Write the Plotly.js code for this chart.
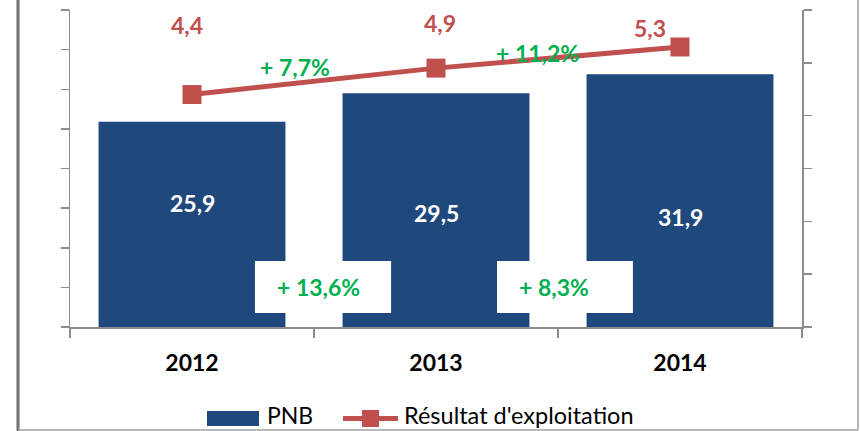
<!DOCTYPE html>
<html>
<head>
<meta charset="utf-8">
<script src="https://cdn.plot.ly/plotly-3.0.1.min.js"></script>
<style>html,body{margin:0;padding:0;background:#fff;}#chart{width:860px;height:431px;}</style>
</head>
<body>
<div id="chart"></div>
<script>
const categories = ['2012', '2013', '2014'];
const pnb = [25.9, 29.5, 31.9];
const resultat = [4.4, 4.9, 5.3];
const pnbGrowth = ['+ 13,6%', '+ 8,3%'];
const resultatGrowth = ['+ 7,7%', '+ 11,2%'];
const legendNames = ['PNB', "Résultat d'exploitation"];

const fmt = v => v.toFixed(1).replace('.', ',');
const BLUE = '#1F497D', RED = '#C0504D', GREEN = '#00B050', AX = '#8C8C8C';
const FONT = 'Lato, "Open Sans", sans-serif';

// plot area in pixels: x 70..802, y 10..327
const PL = 70, PR = 802, PT = 10, PB = 327;
const px = p => (p - PL) / (PR - PL);
const py = p => (PB - p) / (PB - PT);

const traces = [
  {type: 'bar', x: categories, y: pnb, name: legendNames[0], marker: {color: BLUE},
   hoverinfo: 'skip', showlegend: false},
  {type: 'scatter', mode: 'lines+markers', x: categories, y: resultat, yaxis: 'y2',
   name: legendNames[1], line: {color: RED, width: 5},
   marker: {symbol: 'square', size: 19, color: RED}, hoverinfo: 'skip', showlegend: false}
];

const bold = (size, color) => ({family: FONT, size: size, color: color, weight: 'bold'});
const annotations = [];
// bar value labels (offsets from bar top)
const barLabelShift = [-81, -120, -143];
pnb.forEach((v, i) => annotations.push({x: i, y: v, xref: 'x', yref: 'y',
  xanchor: 'center', yanchor: 'middle',
  text: fmt(v), showarrow: false, yshift: barLabelShift[i], font: bold(23, '#FFFFFF')}));
// line value labels
const lineLabelShift = [[-5, 70], [4, 45], [-30, 19]];
resultat.forEach((v, i) => annotations.push({x: i, y: v, xref: 'x', yref: 'y2',
  xanchor: 'center', yanchor: 'middle',
  text: fmt(v), showarrow: false, xshift: lineLabelShift[i][0], yshift: lineLabelShift[i][1],
  font: bold(23, RED)}));
// growth of résultat (between categories, above line)
const resGrowthPos = [[0.422, 4.92], [1.418, 5.19]];
resultatGrowth.forEach((t, i) => annotations.push({x: resGrowthPos[i][0], y: resGrowthPos[i][1],
  xref: 'x', yref: 'y2', xanchor: 'center', yanchor: 'middle',
  text: t, showarrow: false, font: bold(23, GREEN)}));
// growth of PNB in white boxes
const shapes = [];
const boxX = [[0.258, 0.816], [1.25, 1.807]];
pnbGrowth.forEach((t, i) => {
  shapes.push({type: 'rect', xref: 'x', yref: 'paper', x0: boxX[i][0], x1: boxX[i][1],
    y0: py(313), y1: py(261), fillcolor: '#FFFFFF', line: {width: 0}, layer: 'above'});
  annotations.push({x: boxX[i][0] + 0.082, y: py(287), xref: 'x', yref: 'paper',
    xanchor: 'left', yanchor: 'middle',
    text: t, showarrow: false, font: bold(23, GREEN)});
});

// outer frame
shapes.push({type: 'line', xref: 'paper', yref: 'paper', x0: px(18), x1: px(18), y0: py(-5), y1: py(431),
  line: {color: '#707070', width: 3}});
shapes.push({type: 'line', xref: 'paper', yref: 'paper', x0: px(18), x1: px(858), y0: py(430), y1: py(430),
  line: {color: '#A0A0A0', width: 1.5}});
shapes.push({type: 'line', xref: 'paper', yref: 'paper', x0: px(858), x1: px(858), y0: py(-5), y1: py(430),
  line: {color: '#A0A0A0', width: 1.5}});

// custom legend
shapes.push({type: 'rect', xref: 'paper', yref: 'paper', x0: px(207), x1: px(259), y0: py(426), y1: py(411),
  fillcolor: BLUE, line: {width: 0}});
shapes.push({type: 'line', xref: 'paper', yref: 'paper', x0: px(343), x1: px(398), y0: py(418.5), y1: py(418.5),
  line: {color: RED, width: 5}});
shapes.push({type: 'rect', xref: 'paper', yref: 'paper', x0: px(362), x1: px(379), y0: py(427), y1: py(410),
  fillcolor: RED, line: {width: 0}});
annotations.push({x: px(265), y: py(431), xref: 'paper', yref: 'paper', xanchor: 'left', yanchor: 'bottom',
  text: legendNames[0], showarrow: false, font: {family: FONT, size: 23, color: '#000'}});
annotations.push({x: px(402), y: py(431), xref: 'paper', yref: 'paper', xanchor: 'left', yanchor: 'bottom',
  text: legendNames[1], showarrow: false, font: {family: FONT, size: 23.5, color: '#000'}});

const axisCommon = {showgrid: false, zeroline: false, showline: true, linecolor: AX, linewidth: 1.5,
  ticks: 'outside', tickcolor: AX, tickwidth: 1.5, ticklen: 8, showticklabels: false, fixedrange: true};

const layout = {
  width: 860, height: 431,
  margin: {l: PL, r: 860 - PR, t: PT, b: 431 - PB},
  paper_bgcolor: '#FFFFFF', plot_bgcolor: '#FFFFFF',
  showlegend: false, bargap: 0.234,
  xaxis: {type: 'category', range: [-0.5, 2.5], tickson: 'boundaries', ticks: 'outside', ticklen: 9,
    tickcolor: AX, tickwidth: 1.5, showline: true, linecolor: AX, linewidth: 1.5, showgrid: false,
    tickfont: bold(23, '#000000'), ticklabelstandoff: 15, fixedrange: true},
  yaxis: Object.assign({range: [0, 40], dtick: 5, tick0: 0}, axisCommon),
  yaxis2: Object.assign({range: [0, 6], dtick: 1, tick0: 0, overlaying: 'y', side: 'right'}, axisCommon),
  shapes: shapes, annotations: annotations
};

Plotly.newPlot('chart', traces, layout, {displayModeBar: false, staticPlot: true});
</script>
</body>
</html>
